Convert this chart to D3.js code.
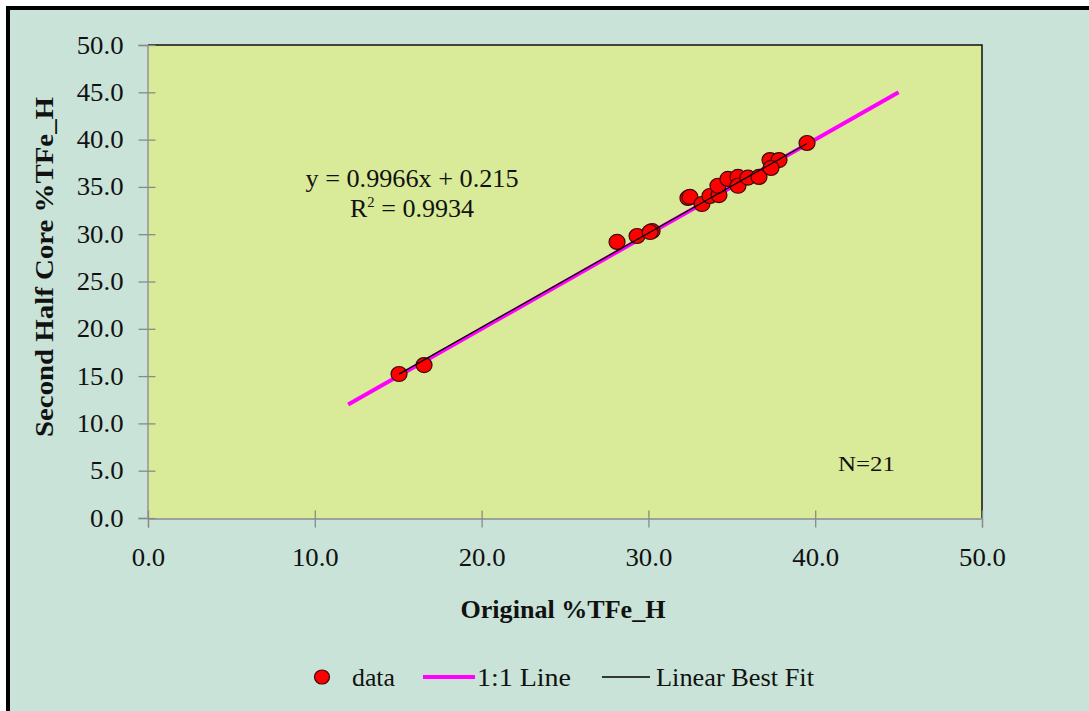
<!DOCTYPE html>
<html>
<head>
<meta charset="utf-8">
<script src="https://cdn.jsdelivr.net/npm/d3@7"></script>
<style>
  html, body { margin: 0; padding: 0; background: #ffffff; }
  svg { display: block; }
  text { font-family: "Liberation Serif", "Times New Roman", serif; fill: #111; }
</style>
</head>
<body>
<svg id="chart" width="1089" height="711"></svg>
<script>
// Original vs second-half core assays (%TFe_H)
const originalTFe = [15.05, 16.55, 28.12, 29.32, 30.22, 30.10, 32.37, 32.49, 33.21, 33.69, 34.23,
                     34.17, 34.77, 35.37, 35.37, 35.97, 36.63, 37.29, 37.83, 37.35, 39.51];
const secondHalfTFe = [15.22, 16.17, 29.18, 29.81, 30.34, 30.23, 33.83, 33.94, 33.19, 34.04, 34.13,
                       35.12, 35.84, 36.05, 35.12, 35.98, 36.05, 37.84, 37.84, 37.00, 39.64];
const xTicks = [0, 10, 20, 30, 40, 50];
const yTicks = [0, 5, 10, 15, 20, 25, 30, 35, 40, 45, 50];
const oneToOneRange = [12, 45];
const fitSlope = 0.9966;
const fitIntercept = 0.215;
const fitR2 = 0.9934;
const sampleCount = 21;
const legendItems = ["data", "1:1 Line", "Linear Best Fit"];

const svg = d3.select("#chart");
const W = 1089, H = 711;

// stretch a text element horizontally by factor k, or to an exact width
function widen(sel, k, width) {
  sel.each(function () {
    const len = width || this.getComputedTextLength() * (k || 1);
    d3.select(this).attr("textLength", len).attr("lengthAdjust", "spacingAndGlyphs");
  });
}

// frame
svg.append("rect").attr("x", 6).attr("y", 6).attr("width", W - 6).attr("height", H - 6).attr("fill", "#000");
svg.append("rect").attr("x", 10).attr("y", 10).attr("width", W - 10).attr("height", H - 10).attr("fill", "#c9e3d8");

const x = d3.scaleLinear().domain([0, 50]).range([148, 982]);
const y = d3.scaleLinear().domain([0, 50]).range([518, 45]);

// plot area
svg.append("rect").attr("x", x(0)).attr("y", y(50)).attr("width", x(50) - x(0)).attr("height", y(0) - y(50))
  .attr("fill", "#d9ea98");
svg.append("path").attr("d", `M${x(0)},${y(50)}H${x(50)}V${y(0)}`).attr("fill", "none")
  .attr("stroke", "#111").attr("stroke-width", 1.5);

// axes with ticks crossing the axis line
const axisColor = "#8a8a8a";
const yAxis = svg.append("g").attr("transform", `translate(${x(0) - 0.5},0)`)
  .call(d3.axisLeft(y).tickValues(yTicks).tickFormat(d3.format(".1f")).tickSize(9).tickPadding(15));
yAxis.select(".domain").attr("stroke", axisColor).attr("stroke-width", 1.3);
yAxis.selectAll(".tick line").attr("stroke", axisColor).attr("stroke-width", 1.3).attr("x1", 8);
yAxis.selectAll(".tick text").attr("font-size", 25).attr("font-family", "Liberation Serif").attr("fill", "#111");
widen(yAxis.selectAll(".tick text"), 1.07);

const xAxis = svg.append("g").attr("transform", `translate(0,${y(0) + 0.5})`)
  .call(d3.axisBottom(x).tickValues(xTicks).tickFormat(d3.format(".1f")).tickSize(9).tickPadding(21));
xAxis.select(".domain").attr("stroke", axisColor).attr("stroke-width", 1.3);
xAxis.selectAll(".tick line").attr("stroke", axisColor).attr("stroke-width", 1.3).attr("y1", -8);
xAxis.selectAll(".tick text").attr("font-size", 25).attr("font-family", "Liberation Serif").attr("fill", "#111");
widen(xAxis.selectAll(".tick text"), 1.07);

// 1:1 line
const line = d3.line().x(d => x(d[0])).y(d => y(d[1]));
svg.append("path").datum(oneToOneRange.map(v => [v, v])).attr("d", line)
  .attr("stroke", "#ff00ff").attr("stroke-width", 4).attr("fill", "none");

// data points
const pts = originalTFe.map((v, i) => [v, secondHalfTFe[i]]);
svg.append("g").selectAll("ellipse").data(pts).join("ellipse")
  .attr("cx", d => x(d[0])).attr("cy", d => y(d[1]))
  .attr("rx", 8).attr("ry", 7.5)
  .attr("fill", "#ff0000").attr("stroke", "#3a0a0a").attr("stroke-width", 1.2);

// linear best fit over the data range
const xExt = d3.extent(originalTFe);
svg.append("path").datum(xExt.map(v => [v, fitSlope * v + fitIntercept])).attr("d", line)
  .attr("stroke", "#000").attr("stroke-width", 1.3).attr("fill", "none");

// regression annotation
const eq = svg.append("text").attr("x", 412).attr("y", 187).attr("text-anchor", "middle").attr("font-size", 25)
  .text(`y = ${fitSlope}x + ${fitIntercept}`);
widen(eq, 0, 213);
const r2 = svg.append("text").attr("x", 412).attr("y", 217).attr("text-anchor", "middle").attr("font-size", 25);
r2.append("tspan").text("R");
r2.append("tspan").attr("font-size", 14).attr("dy", -10).text("2");
r2.append("tspan").attr("dy", 10).text(` = ${fitR2}`);
widen(r2, 0, 124);

const nLab = svg.append("text").attr("x", 838).attr("y", 471).attr("font-size", 22).text(`N=${sampleCount}`);
widen(nLab, 0, 57);

// axis titles
const xt = svg.append("text").attr("x", 563).attr("y", 618).attr("text-anchor", "middle")
  .attr("font-size", 25).attr("font-weight", "bold").text("Original %TFe_H");
widen(xt, 0, 205);
const yt = svg.append("text").attr("transform", "translate(53,267) rotate(-90)").attr("text-anchor", "middle")
  .attr("font-size", 25).attr("font-weight", "bold").text("Second Half Core %TFe_H");
widen(yt, 0, 340);

// legend
const lg = svg.append("g");
lg.append("ellipse").attr("cx", 322).attr("cy", 677).attr("rx", 7.5).attr("ry", 7)
  .attr("fill", "#ff0000").attr("stroke", "#3a0a0a").attr("stroke-width", 1.2);
const t1 = lg.append("text").attr("x", 352).attr("y", 686).attr("font-size", 25).text(legendItems[0]);
lg.append("line").attr("x1", 423).attr("x2", 475).attr("y1", 677).attr("y2", 677)
  .attr("stroke", "#ff00ff").attr("stroke-width", 4);
const t2 = lg.append("text").attr("x", 477).attr("y", 686).attr("font-size", 25).text(legendItems[1]);
lg.append("line").attr("x1", 602).attr("x2", 650).attr("y1", 677).attr("y2", 677)
  .attr("stroke", "#000").attr("stroke-width", 1.3);
const t3 = lg.append("text").attr("x", 656).attr("y", 686).attr("font-size", 25).text(legendItems[2]);
widen(t1, 0, 43); widen(t2, 0, 94); widen(t3, 0, 158);
</script>
</body>
</html>
